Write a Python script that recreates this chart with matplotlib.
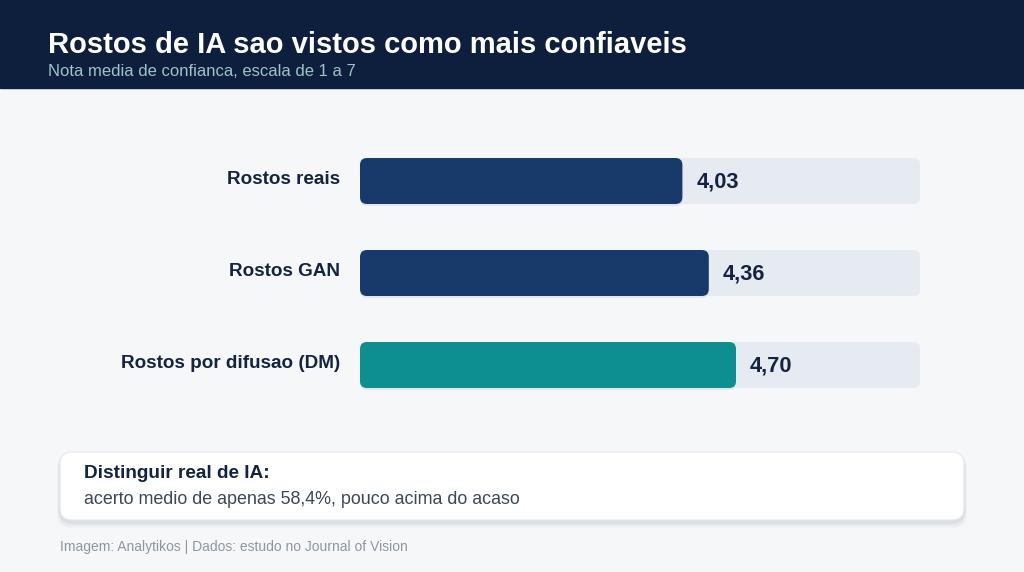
# Trust ratings for real vs AI generated faces

import numpy as np
from matplotlib import pyplot as plt
from matplotlib.patches import FancyBboxPatch, Rectangle

plt.rcParams['font.family'] = ['Liberation Sans', 'DejaVu Sans']

# Data

categories = ['Rostos reais', 'Rostos GAN', 'Rostos por difusao (DM)']
scores = [4.03, 4.36, 4.70]
score_labels = ['4,03', '4,36', '4,70']
scale_max = 7

title = 'Rostos de IA sao vistos como mais confiaveis'
subtitle = 'Nota media de confianca, escala de 1 a 7'
note_title = 'Distinguir real de IA:'
note_text = 'acerto medio de apenas 58,4%, pouco acima do acaso'
source = 'Imagem: Analytikos | Dados: estudo no Journal of Vision'

# Colours

navy_dark = '#0d1f3c'
navy_bar = '#173a6b'
teal = '#0e8f8f'
track = '#e6ebf2'
bg = '#f6f7f9'
bar_colors = [navy_bar, navy_bar, teal]

W, H = 1024, 572
fig = plt.figure(figsize = (W/100, H/100), dpi = 100)
fig.patch.set_facecolor(bg)

# Background axes in pixel units (for header, note box and footer)

bgax = fig.add_axes([0, 0, 1, 1])
bgax.set_xlim(0, W)
bgax.set_ylim(H, 0)
bgax.axis('off')

bgax.add_patch(Rectangle((0, 0), W, 88, color = navy_dark, zorder = 1))
bgax.text(48, 45, title, color = 'white', fontsize = 21, fontweight = 'bold', va = 'center', ha = 'left')
bgax.text(48, 72, subtitle, color = '#9fc3c7', fontsize = 12, va = 'center', ha = 'left')

# Note box with soft shadow
for k, a in zip([6, 4, 2], [0.03, 0.04, 0.05]):
    bgax.add_patch(FancyBboxPatch((60 - k/2, 453 + 1), 904 + k, 68 + k, boxstyle = 'round,pad=0,rounding_size=14',
                                  facecolor = '#1a2a4a', edgecolor = 'none', alpha = a, zorder = 2))
bgax.add_patch(FancyBboxPatch((60, 452), 904, 68, boxstyle = 'round,pad=0,rounding_size=12',
                              facecolor = 'white', edgecolor = '#e3e7ee', linewidth = 0.8, zorder = 3))
bgax.text(84, 473, note_title, color = '#14233f', fontsize = 13.7, fontweight = 'bold', va = 'center', ha = 'left', zorder = 4)
bgax.text(84, 499, note_text, color = '#3b4858', fontsize = 12.9, va = 'center', ha = 'left', zorder = 4)

bgax.text(60, 547, source, color = '#8c96a2', fontsize = 10, va = 'center', ha = 'left')

# Bar axes: x from 360 to 920 px, rows 92 px apart

ax = fig.add_axes([360/W, 1 - 411/H, 560/W, 276/H])
ax.set_xlim(0, scale_max)
ax.set_ylim(len(categories) - 0.5, -0.5)
ax.axis('off')

bar_h = 0.5
px_x = scale_max/560
px_y = 1/92
aspect = px_y/px_x
r = 7*px_x

for i in range(len(categories)):

    # background track
    ax.add_patch(FancyBboxPatch((0, i - bar_h/2), scale_max, bar_h, boxstyle = 'round,pad=0,rounding_size=%f' % r,
                                mutation_aspect = aspect, facecolor = track, edgecolor = 'none', zorder = 1))

    # shadow
    ax.add_patch(FancyBboxPatch((0, i - bar_h/2 + 2*px_y), scores[i], bar_h, boxstyle = 'round,pad=0,rounding_size=%f' % r,
                                mutation_aspect = aspect, facecolor = '#1a2a4a', edgecolor = 'none', alpha = 0.08, zorder = 2))

    # value bar
    ax.add_patch(FancyBboxPatch((0, i - bar_h/2), scores[i], bar_h, boxstyle = 'round,pad=0,rounding_size=%f' % r,
                                mutation_aspect = aspect, facecolor = bar_colors[i], edgecolor = 'none', zorder = 3))

    ax.text(scores[i] + 14*px_x, i + 1*px_y, score_labels[i], color = '#14233f', fontsize = 15.7, fontweight = 'bold',
            va = 'center', ha = 'left', zorder = 4)

    ax.text(-20*px_x, i - 1*px_y, categories[i], color = '#14233f', fontsize = 13.6, fontweight = 'bold',
            va = 'center', ha = 'right', zorder = 4)

plt.savefig('out.png', dpi = 100, facecolor = fig.get_facecolor())
